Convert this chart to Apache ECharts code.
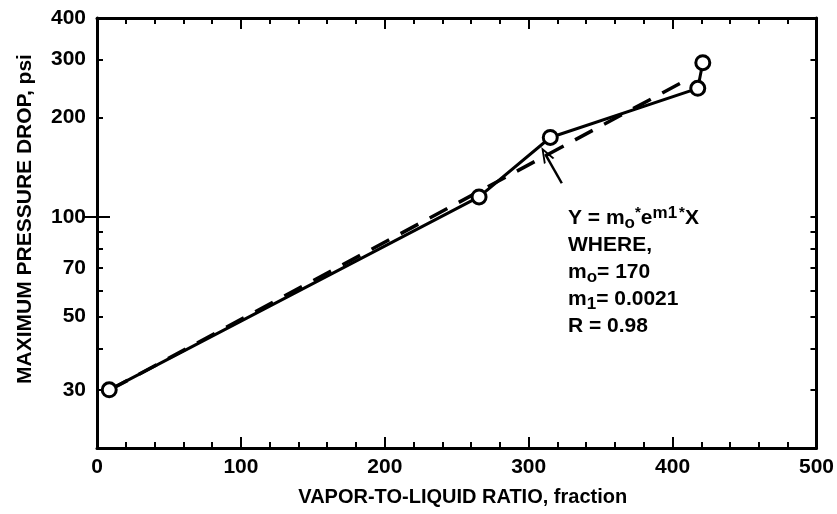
<!DOCTYPE html>
<html>
<head>
<meta charset="utf-8">
<script src="https://cdn.jsdelivr.net/npm/echarts@6/dist/echarts.min.js"></script>
<style>
html,body{margin:0;padding:0;background:#fff;}
#c{width:837px;height:514px;}
</style>
</head>
<body>
<div id="c"></div>
<script>
// Measured data points (vapor-to-liquid ratio, max pressure drop psi)
const ratio = [8.5, 265.5, 315, 417.5, 421];
const pressure = [30, 115, 174, 245, 293];
// Fitted (dashed) line end points
const fitX = [9, 412];
const fitY = [30, 263];
// Arrow annotation (data space): tail -> tip
const arrowFrom = [323, 126.5];
const arrowTo = [311.5, 155];
// Tick definitions
const xTicks = [0, 100, 200, 300, 400, 500];
const yLabelValues = [30, 50, 70, 100, 200, 300, 400];
const yTickValues = [20, 30, 40, 50, 60, 70, 80, 90, 100, 200, 300, 400];
const yMajorTick = [100];
const xTitle = 'VAPOR-TO-LIQUID RATIO, fraction';
const yTitle = 'MAXIMUM PRESSURE DROP, psi';

const FONT = 'Liberation Sans, Arial, sans-serif';
const chart = echarts.init(document.getElementById('c'));

const baseAxisX = {
  type: 'value', min: 0, max: 500, interval: 100,
  axisLine: { show: true, onZero: false, lineStyle: { color: '#000', width: 3 } },
  axisTick: { show: true, inside: true, length: 11, lineStyle: { color: '#000', width: 2 } },
  minorTick: { show: true, splitNumber: 5, length: 6, lineStyle: { color: '#000', width: 2 } },
  splitLine: { show: false }, minorSplitLine: { show: false }
};
const baseAxisY = {
  type: 'log', logBase: 10, min: 20, max: 400,
  axisLine: { show: true, onZero: false, lineStyle: { color: '#000', width: 3 } },
  axisTick: { show: true, inside: true, length: 6, customValues: yTickValues, lineStyle: { color: '#000', width: 2 } },
  axisLabel: { show: false },
  splitLine: { show: false }
};
const majorAxisY = {
  type: 'log', logBase: 10, min: 20, max: 400,
  axisLine: { show: false },
  axisTick: { show: true, inside: true, length: 13, customValues: yMajorTick, lineStyle: { color: '#000', width: 2 } },
  axisLabel: { show: false },
  splitLine: { show: false }
};

const option = {
  animation: false,
  backgroundColor: '#fff',
  grid: { left: 97, right: 19, top: 18, bottom: 66, containLabel: false },
  xAxis: [
    Object.assign({}, baseAxisX, {
      position: 'bottom',
      name: xTitle, nameLocation: 'middle', nameGap: 39,
      nameTextStyle: { color: '#000', fontSize: 20, fontWeight: 'bold', fontFamily: FONT, padding: [0, 0, 0, 12] },
      axisLabel: { show: true, color: '#000', fontSize: 21, fontWeight: 'bold', fontFamily: FONT, margin: 9,
        customValues: xTicks }
    }),
    Object.assign({}, baseAxisX, { position: 'top', axisLabel: { show: false } })
  ],
  yAxis: [
    Object.assign({}, baseAxisY, {
      position: 'left',
      name: yTitle, nameLocation: 'middle', nameGap: 61, nameRotate: 90,
      nameTextStyle: { color: '#000', fontSize: 21, fontWeight: 'bold', fontFamily: FONT, padding: [0, 0, 0, 28] },
      axisLabel: { show: true, color: '#000', fontSize: 21, fontWeight: 'bold', fontFamily: FONT, margin: 11,
        customValues: yLabelValues }
    }),
    Object.assign({}, baseAxisY, { position: 'right' }),
    Object.assign({}, majorAxisY, { position: 'left' }),
    Object.assign({}, majorAxisY, { position: 'right' })
  ],
  series: [
    {
      type: 'line', name: 'fit', xAxisIndex: 0, yAxisIndex: 0,
      data: fitX.map((x, i) => [x, fitY[i]]),
      symbol: 'none',
      lineStyle: { color: '#000', width: 3.5, type: [20, 13] },
      z: 2
    },
    {
      type: 'line', name: 'data', xAxisIndex: 0, yAxisIndex: 0,
      data: ratio.map((x, i) => [x, pressure[i]]),
      symbol: 'circle', symbolSize: 14, showSymbol: true,
      itemStyle: { color: '#fff', borderColor: '#000', borderWidth: 3 },
      lineStyle: { color: '#000', width: 3 },
      z: 3,
      markLine: {
        silent: true, animation: false,
        symbol: ['none', 'path://M0,14 L6,0 L12,14 L10,14 L6,4.5 L2,14 Z'],
        symbolSize: [12, 16],
        label: { show: false },
        lineStyle: { color: '#000', width: 2.5, type: 'solid' },
        data: [[{ coord: arrowFrom }, { coord: arrowTo }]]
      }
    }
  ],
  graphic: [
    {
      type: 'text', left: 568, top: 203,
      style: {
        text: '{n|Y = m}{sub|o}{sup2|*}{n|e}{sup|m1}{sup2|*}{n|X}\n{n|WHERE,}\n{n|m}{sub|o}{n|= 170}\n{n|m}{sub|1}{n|= 0.0021}\n{n|R = 0.98}',
        fill: '#000',
        rich: {
          n: { fontSize: 21, fontWeight: 'bold', fontFamily: FONT, lineHeight: 27, fill: '#000' },
          sub: { fontSize: 17, fontWeight: 'bold', fontFamily: FONT, lineHeight: 27, verticalAlign: 'bottom', padding: [12, 0, 0, 0], fill: '#000' },
          sup: { fontSize: 17, fontWeight: 'bold', fontFamily: FONT, lineHeight: 27, verticalAlign: 'top', padding: [0, 2, 9, 0], fill: '#000' },
          sup2: { fontSize: 15, fontWeight: 'bold', fontFamily: FONT, lineHeight: 27, verticalAlign: 'top', padding: [0, 0, 6, 0], fill: '#000' }
        }
      }
    }
  ]
};
chart.setOption(option);
</script>
</body>
</html>
